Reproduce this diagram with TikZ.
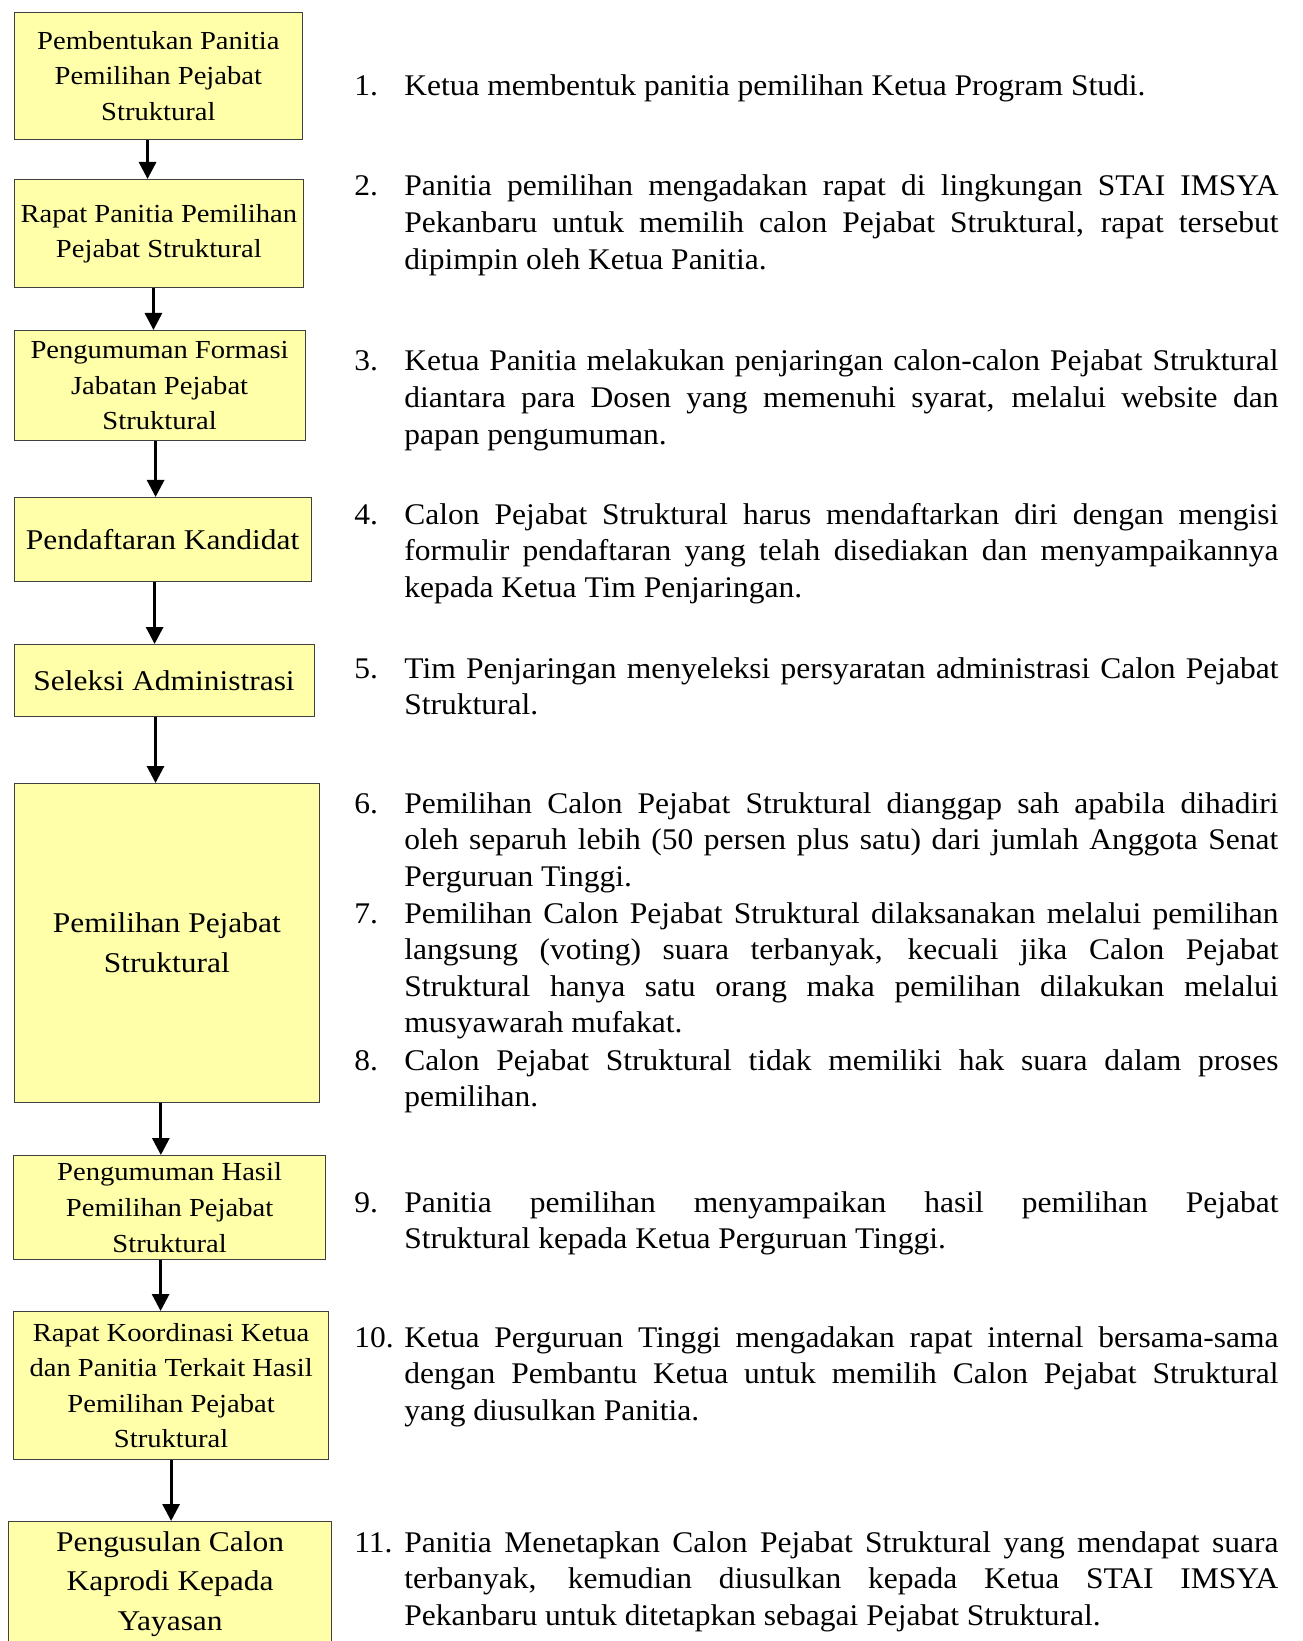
\documentclass[tikz,border=0pt]{standalone}
\usepackage{fontspec}
\setmainfont{Liberation Serif}
\newfontfamily\boxfont[FakeStretch=1.1]{Liberation Serif}
\newfontfamily\listfont[FakeStretch=1.05, WordSpace={1,1.5,2.4}]{Liberation Serif}
\usetikzlibrary{arrows.meta}
\definecolor{boxfill}{HTML}{FFFFAA}
\tolerance=10000
\hyphenpenalty=10000

\begin{document}
\begin{tikzpicture}[
	x = 0.5pt, y = -0.5pt,
	stepbox/.style = {draw = black!75, line width = 0.6pt, fill = boxfill,
		inner sep = 0pt, align = center, anchor = north west,
		font = \boxfont\fontsize{13}{17.8}\selectfont},
	bigbox/.style = {stepbox, font = \boxfont\fontsize{14.3}{19.9}\selectfont},
	flow/.style = {line width = 1.5pt, -{Triangle[width=8.5pt, length=8.5pt]}},
	itemnum/.style = {anchor = base west, inner sep = 0pt,
		font = \listfont\fontsize{15}{18.3}\selectfont},
	itemtext/.style = {anchor = base west, inner sep = 0pt, text width = 437pt,
		align = justify, font = \listfont\fontsize{15}{18.3}\selectfont}
	]
	\useasboundingbox (0,0) rectangle (1302,1641);
	% boxes on the left
	\node[stepbox, minimum width = 144.25pt, minimum height = 63.5pt] (b1) at (13.5,12)
		{Pembentukan Panitia\\Pemilihan Pejabat\\Struktural};
	\node[stepbox, minimum width = 144.75pt, minimum height = 54pt] (b2) at (13.5,179)
		{Rapat Panitia Pemilihan\\Pejabat Struktural};
	\node[stepbox, minimum width = 145.5pt, minimum height = 55pt] (b3) at (13.5,330)
		{Pengumuman Formasi\\Jabatan Pejabat\\Struktural};
	\node[bigbox, minimum width = 148.5pt, minimum height = 42pt] (b4) at (13.5,497)
		{Pendaftaran Kandidat};
	\node[bigbox, minimum width = 150pt, minimum height = 36pt] (b5) at (13.5,644)
		{Seleksi Administrasi};
	\node[bigbox, minimum width = 152.75pt, minimum height = 159.5pt] (b6) at (13.5,783)
		{Pemilihan Pejabat\\Struktural};
	\node[stepbox, minimum width = 156pt, minimum height = 52pt] (b7) at (13,1155)
		{Pengumuman Hasil\\Pemilihan Pejabat\\Struktural};
	\node[stepbox, minimum width = 157.5pt, minimum height = 74pt] (b8) at (13,1311)
		{Rapat Koordinasi Ketua\\dan Panitia Terkait Hasil\\Pemilihan Pejabat\\Struktural};
	\node[bigbox, minimum width = 161.5pt, minimum height = 62.5pt] (b9) at (8,1521)
		{Pengusulan Calon\\Kaprodi Kepada\\Yayasan};
	% arrows
	\foreach \a/\b/\s in {b1/b2/-5.4pt, b2/b3/-2.7pt, b3/b4/-2pt, b4/b5/-4pt,
		b5/b6/-4.3pt, b6/b7/-3pt, b7/b8/-4.5pt, b8/b9/0pt}
		\draw[flow] ([xshift=\s]\a.south) -- ([xshift=\s]\a.south |- \b.north);
	% explanations on the right
	\node[itemnum] (n1) at (354,96) {1.};
	\node[itemtext] (t1) at (404,96) {Ketua membentuk panitia pemilihan Ketua Program Studi.};
	\node[itemnum] (n2) at (354,196) {2.};
	\node[itemtext] (t2) at (404,196) {Panitia pemilihan mengadakan rapat di lingkungan STAI IMSYA\linebreak
		Pekanbaru untuk memilih calon Pejabat Struktural, rapat tersebut\linebreak
		dipimpin oleh Ketua Panitia.};
	\node[itemnum] (n3) at (354,371) {3.};
	\node[itemtext] (t3) at (404,371) {Ketua Panitia melakukan penjaringan calon-calon Pejabat Struktural\linebreak
		diantara para Dosen yang memenuhi syarat, melalui website dan\linebreak
		papan pengumuman.};
	\node[itemnum] (n4) at (354,524) {4.};
	\node[itemtext] (t4) at (404,524) {Calon Pejabat Struktural harus mendaftarkan diri dengan mengisi\linebreak
		formulir pendaftaran yang telah disediakan dan menyampaikannya\linebreak
		kepada Ketua Tim Penjaringan.};
	\node[itemnum] (n5) at (354,678) {5.};
	\node[itemtext] (t5) at (404,678) {Tim Penjaringan menyeleksi persyaratan administrasi Calon Pejabat\linebreak
		Struktural.};
	\node[itemnum] (n6) at (354,813) {6.};
	\node[itemtext] (t6) at (404,813) {Pemilihan Calon Pejabat Struktural dianggap sah apabila dihadiri\linebreak
		oleh separuh lebih (50 persen plus satu) dari jumlah Anggota Senat\linebreak
		Perguruan Tinggi.};
	\node[itemnum] (n7) at (354,923) {7.};
	\node[itemtext] (t7) at (404,923) {Pemilihan Calon Pejabat Struktural dilaksanakan melalui pemilihan\linebreak
		langsung (voting) suara terbanyak, kecuali jika Calon Pejabat\linebreak
		Struktural hanya satu orang maka pemilihan dilakukan melalui\linebreak
		musyawarah mufakat.};
	\node[itemnum] (n8) at (354,1070) {8.};
	\node[itemtext] (t8) at (404,1070) {Calon Pejabat Struktural tidak memiliki hak suara dalam proses\linebreak
		pemilihan.};
	\node[itemnum] (n9) at (354,1212) {9.};
	\node[itemtext] (t9) at (404,1212) {Panitia pemilihan menyampaikan hasil pemilihan Pejabat\linebreak
		Struktural kepada Ketua Perguruan Tinggi.};
	\node[itemnum] (n10) at (354,1347) {10.};
	\node[itemtext] (t10) at (404,1347) {Ketua Perguruan Tinggi mengadakan rapat internal bersama-sama\linebreak
		dengan Pembantu Ketua untuk memilih Calon Pejabat Struktural\linebreak
		yang diusulkan Panitia.};
	\node[itemnum] (n11) at (354,1552) {11.};
	\node[itemtext] (t11) at (404,1552) {Panitia Menetapkan Calon Pejabat Struktural yang mendapat suara\linebreak
		terbanyak, kemudian diusulkan kepada Ketua STAI IMSYA\linebreak
		Pekanbaru untuk ditetapkan sebagai Pejabat Struktural.};
\end{tikzpicture}
\end{document}
